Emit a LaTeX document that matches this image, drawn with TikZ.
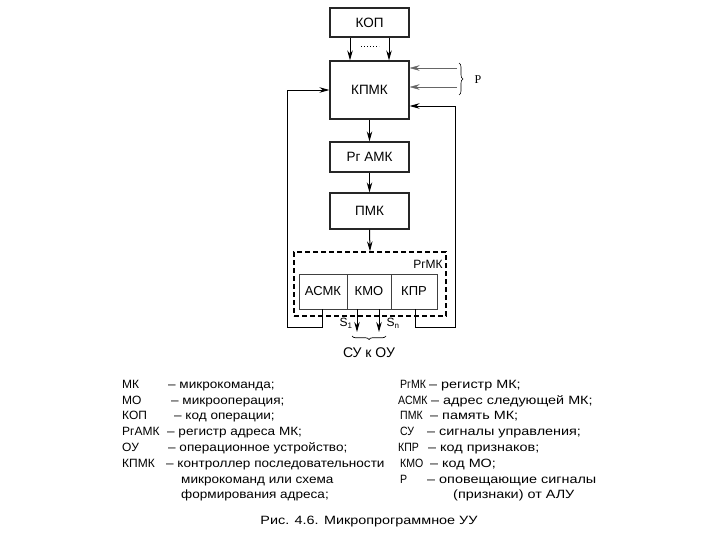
\documentclass[tikz,border=0pt]{standalone}
\usepackage{fontspec}
\usepackage{graphicx}
\setmainfont{Liberation Sans}
\newfontfamily\serifP{Liberation Serif}
\newcommand\lstr[1]{\scalebox{1.13}[1]{#1}}
\newcommand\rstr[1]{\scalebox{1.2}[1]{#1}}
\newcommand\rnar[1]{\scalebox{0.88}[1]{#1}}
\usetikzlibrary{arrows.meta,decorations.pathreplacing}
\begin{document}
\begin{tikzpicture}[x=1pt,y=-1pt,
 txt/.style={font=\fontsize{12}{14}\selectfont},
 btxt/.style={font=\fontsize{13.5}{15}\selectfont},
 blk/.style={draw=black!85,line width=1.2pt,minimum width=79pt,inner sep=0pt,btxt},
 cell/.style={draw=black!75,line width=0.7pt,minimum height=35pt,inner sep=0pt,font=\fontsize{13}{15}\selectfont},
 arr/.style={-{Stealth[length=10pt,width=5.5pt]},line width=1pt},
 fb/.style={line width=0.9pt},
 parr/.style={-{Stealth[length=10pt,width=5.5pt]},line width=0.4pt,draw=black!60},
 leg/.style={anchor=base west,inner sep=0pt,txt},
]
\useasboundingbox[fill=white] (0,0) rectangle (720,540);

% blocks
\node[blk,minimum height=29pt] (kop) at (369.5,22.5) {КОП};
\node[blk,minimum height=58pt] (kpmk) at (369.5,90) {КПМК};
\node[blk,minimum height=30pt] (rgamk) at (369.5,157) {Рг АМК};
\node[blk,minimum height=36pt] (pmk) at (369.5,211) {ПМК};
\node[draw=black,line width=1.3pt,dash pattern=on 5pt off 3pt,minimum width=152pt,minimum height=64pt,inner sep=0pt] (rgmk) at (370,284) {};
\node[txt,inner sep=0pt] (rgmklbl) at (428,264) {РгМК};
\node[cell,minimum width=48pt] (asmk) at (323,291.5) {АСМК};
\node[cell,minimum width=44pt] (kmo) at (369,291.5) {КМО};
\node[cell,minimum width=46pt] (kpr) at (414,291.5) {КПР};

% main arrows
\draw[arr] ([xshift=-19.5pt]kop.south) -- ([xshift=-19.5pt]kpmk.north);
\draw[arr] ([xshift=19.5pt]kop.south) -- ([xshift=19.5pt]kpmk.north);
\draw[dotted,line width=1pt] (361,47) -- (379,47);
\draw[arr] (kpmk.south) -- (rgamk.north);
\draw[arr] (rgamk.south) -- (pmk.north);
\draw[arr] (pmk.south) -- (rgmk.north);

% P inputs
\coordinate (p1) at (457,68);
\coordinate (p2) at (457,87);
\draw[parr] (p1) -- (p1 -| kpmk.east);
\draw[parr] (p2) -- (p2 -| kpmk.east);
\draw[line width=0.6pt,decorate,decoration={brace,amplitude=4pt}] (459,63) -- (459,95);
\node[font=\serifP\fontsize{12}{14}\selectfont,inner sep=0pt] (plbl) at (478,80) {Р};

% feedback loops
\coordinate (r1) at (415,327);
\coordinate (r2) at (455,327);
\coordinate (r3) at (455,106);
\draw[fb,-{Stealth[length=10pt,width=5.5pt]}] (r1 |- kpr.south) -- (r1) -- (r2) -- (r3) -- (r3 -| kpmk.east);
\coordinate (l1) at (322,327);
\coordinate (l2) at (287,327);
\coordinate (l3) at (287,90);
\draw[fb,-{Stealth[length=10pt,width=5.5pt]}] (l1 |- asmk.south) -- (l1) -- (l2) -- (l3) -- (l3 -| kpmk.west);

% control signal outputs
\coordinate (s1) at (357,332);
\coordinate (sn) at (379,332);
\draw[arr] (s1 |- kmo.south) -- (s1);
\draw[arr] (sn |- kmo.south) -- (sn);
\node[txt,inner sep=0pt] (s1lbl) at (346,323) {S\textsubscript{1}};
\node[txt,inner sep=0pt] (snlbl) at (393,323) {S\textsubscript{n}};
\draw[line width=0.7pt,decorate,decoration={brace,amplitude=3.5pt}] (386,336) -- (352,336);
\node[font=\fontsize{14}{16}\selectfont,inner sep=0pt] (suou) at (369,353) {СУ к ОУ};

% legend, left column
\node[leg] (la1) at (122,388) {МК};     \node[leg] (lb1) at (168,388) {\lstr{– микрокоманда;}};
\node[leg] (la2) at (122,404) {МО};     \node[leg] (lb2) at (171,404) {\lstr{– микрооперация;}};
\node[leg] (la3) at (122,419) {КОП};    \node[leg] (lb3) at (174,419) {\lstr{– код операции;}};
\node[leg] (la4) at (122,435) {РгАМК};  \node[leg] (lb4) at (167,435) {\lstr{– регистр адреса МК;}};
\node[leg] (la5) at (122,451) {ОУ};     \node[leg] (lb5) at (168,451) {\lstr{– операционное устройство;}};
\node[leg] (la6) at (122,467) {КПМК};   \node[leg] (lb6) at (166,467) {\lstr{– контроллер последовательности}};
\node[leg] (lb7) at (181,483) {\lstr{микрокоманд или схема}};
\node[leg] (lb8) at (181,498) {\lstr{формирования адреса;}};

% legend, right column
\node[leg] (ra1) at (400,388) {\rnar{РгМК}};   \node[leg] (rb1) at (429,388) {\rstr{– регистр МК;}};
\node[leg] (ra2) at (398,404) {\rnar{АСМК}};   \node[leg] (rb2) at (431,404) {\rstr{– адрес следующей МК;}};
\node[leg] (ra3) at (400,419) {\rnar{ПМК}};    \node[leg] (rb3) at (430,419) {\rstr{– память МК;}};
\node[leg] (ra4) at (400,435) {\rnar{СУ}};     \node[leg] (rb4) at (427,435) {\rstr{– сигналы управления;}};
\node[leg] (ra5) at (398,451) {\rnar{КПР}};    \node[leg] (rb5) at (428,451) {\rstr{– код признаков;}};
\node[leg] (ra6) at (400,467) {\rnar{КМО}};    \node[leg] (rb6) at (430,467) {\rstr{– код МО;}};
\node[leg] (ra7) at (400,483) {\rnar{Р}};      \node[leg] (rb7) at (427,483) {\rstr{– оповещающие сигналы}};
\node[leg] (rb8) at (453,498) {\rstr{(признаки) от АЛУ}};

% caption
\node[txt,inner sep=0pt] (cap) at (369,522) {\rstr{Рис. 4.6. Микропрограммное УУ}};
\end{tikzpicture}
\end{document}
